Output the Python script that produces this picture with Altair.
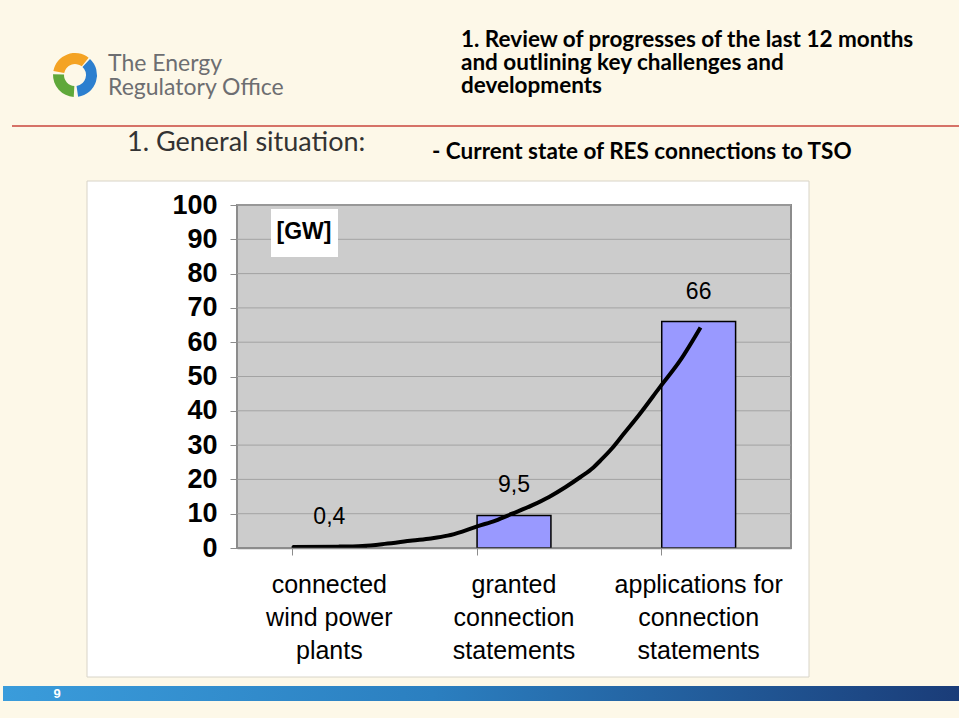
import altair as alt
import pandas as pd

# ---- data ----
categories = ["connected\nwind power\nplants", "granted\nconnection\nstatements", "applications for\nconnection\nstatements"]
values = [0.4, 9.5, 66]
value_labels = ["0,4", "9,5", "66"]
grid_values = [10, 20, 30, 40, 50, 60, 70, 80, 90, 100]
y_ticks = [0, 10, 20, 30, 40, 50, 60, 70, 80, 90, 100]
# hand-drawn trend curve (x in category units, 0..3)
trend_x = [0.30, 0.55, 0.68, 0.80, 0.95, 1.05, 1.14, 1.22, 1.30, 1.40, 1.49, 1.60, 1.69, 1.78, 1.86, 1.93, 1.97, 2.03, 2.09, 2.18, 2.29, 2.40, 2.51]
trend_y = [0.3, 0.4, 0.6, 1.2, 2.2, 2.8, 3.6, 4.8, 6.3, 8.0, 10.0, 12.5, 14.9, 17.8, 20.7, 23.5, 25.6, 29.0, 33.0, 39.0, 46.9, 54.7, 64.3]

W, H = 554, 343          # plot area
OX, OY = 237, 205        # plot origin on the page

bars_df = pd.DataFrame({"cat": categories, "value": values, "label": value_labels})
trend_df = pd.DataFrame({"px": trend_x, "value": trend_y})
grid_df = pd.DataFrame({"value": grid_values})
one = pd.DataFrame({"a": [0]})

ysc = alt.Scale(domain=[0, 100], nice=False, zero=True)
xsc = alt.Scale(domain=categories, paddingInner=0.6, paddingOuter=0.3)
y_axis = alt.Axis(title=None, values=y_ticks, grid=False, domain=False, tickSize=7,
                  tickColor="#8C8C8C", labelFont="Liberation Sans", labelFontSize=27,
                  labelFontWeight="bold", labelColor="black", labelPadding=13, zindex=1)
Y = alt.Y("value:Q", scale=ysc, axis=y_axis)


def px(x):
    return x - OX


def py(y):
    return y - OY


def deco_text(txt, x, y, size, font="Lato", weight="normal", color="black", align="left",
              baseline="middle", line_height=None):
    kw = dict(text=txt, font=font, fontSize=size, fontWeight=weight,
              color=color, align=align, baseline=baseline)
    if line_height:
        kw.update(lineBreak="\n", lineHeight=line_height)
    return alt.Chart(one).mark_text(**kw).encode(x=alt.value(px(x)), y=alt.value(py(y)))


# page decorations
white_box = alt.Chart(one).mark_rect(fill="white", stroke="#D8D4C8", strokeWidth=1).encode(
    x=alt.value(px(87)), x2=alt.value(px(809)), y=alt.value(py(181)), y2=alt.value(py(677)))

red_line = alt.Chart(one).mark_rule(color="#C9463D", strokeWidth=1.5).encode(
    x=alt.value(px(12)), x2=alt.value(px(959)), y=alt.value(py(126)))

footer = alt.Chart(one).mark_rect(
    color=alt.LinearGradient(gradient="linear",
                             stops=[alt.GradientStop(color="#3A9CDB", offset=0),
                                    alt.GradientStop(color="#2B7FC0", offset=0.45),
                                    alt.GradientStop(color="#1A3C78", offset=1)],
                             x1=0, x2=1, y1=0, y2=0)).encode(
    x=alt.value(px(3)), x2=alt.value(px(959)), y=alt.value(py(686)), y2=alt.value(py(701)))

logo_parts = []
for t1, t2, c in [(4.9, 6.95, "#F4A324"), (0.75, 3.0, "#2C7FCF"), (3.2, 4.75, "#5FA83A")]:
    logo_parts.append(alt.Chart(one).mark_arc(theta=t1, theta2=t2, radius=22, radius2=11, color=c).encode(
        x=alt.value(px(75)), y=alt.value(py(75))))

gray_plot = alt.Chart(one).mark_rect(fill="#CCCCCC", stroke="#8C8C8C", strokeWidth=2).encode(
    x=alt.value(0), x2=alt.value(W), y=alt.value(0), y2=alt.value(H))

grid = alt.Chart(grid_df).mark_rule(color="#A3A3A3", strokeWidth=1).encode(
    y=Y, x=alt.value(0), x2=alt.value(W))

bars = alt.Chart(bars_df).mark_bar(color="#9999FF", stroke="black", strokeWidth=1.5).encode(
    x=alt.X("cat:N", scale=xsc, sort=categories,
            axis=alt.Axis(title=None, labels=False, ticks=True, bandPosition=0, tickSize=7,
                          tickColor="#8C8C8C", domainColor="#8C8C8C", domainWidth=1.5, zindex=1)),
    y=Y)

trend = alt.Chart(trend_df).mark_line(color="black", strokeWidth=4, interpolate="monotone").encode(
    x=alt.X("px:Q", scale=alt.Scale(domain=[0, 3], nice=False, zero=False), axis=None),
    y=Y)

val_text = alt.Chart(bars_df).mark_text(font="Liberation Sans", fontSize=23, dy=-30, baseline="middle",
                                        color="black").encode(
    x=alt.X("cat:N", scale=xsc, sort=categories, axis=None),
    y=Y,
    text="label:N")

cat_text = alt.Chart(bars_df).mark_text(font="Liberation Sans", fontSize=25, lineBreak="\n",
                                        lineHeight=33, baseline="middle", color="black").encode(
    x=alt.X("cat:N", scale=xsc, sort=categories, axis=None),
    y=alt.value(py(585)),
    text="cat:N")

gw_box = alt.Chart(one).mark_rect(fill="white").encode(
    x=alt.value(px(271)), x2=alt.value(px(338)), y=alt.value(py(209)), y2=alt.value(py(257)))
gw_text = deco_text("[GW]", 304, 232, 23, font="Liberation Sans", weight="bold", align="center")

texts = [
    deco_text("The Energy\nRegulatory Office", 108, 64, 23, color="#6D6E71", line_height=24),
    deco_text("1. Review of progresses of the last 12 months\nand outlining key challenges and\ndevelopments",
              461, 40, 22.5, weight="bold", line_height=23),
    deco_text("1. General situation:", 127, 143, 27, color="#333333"),
    deco_text("- Current state of RES connections to TSO", 432, 152, 22.5, weight="bold"),
    deco_text("9", 57, 694, 13, font="Liberation Sans", weight="bold", color="white", align="center"),
]

chart = alt.layer(
    white_box, red_line, footer, *logo_parts, gray_plot, grid, bars, trend, val_text, cat_text,
    gw_box, gw_text, *texts
).resolve_scale(x="independent").properties(
    width=W, height=H,
    autosize=alt.AutoSizeParams(type="none"),
    padding={"left": OX, "top": OY, "right": 959 - OX - W, "bottom": 718 - OY - H},
    background="#FDF8E8",
).configure_view(stroke=None, fill=None)

chart.save("out.html", embed_options={"renderer": "svg", "actions": False})
